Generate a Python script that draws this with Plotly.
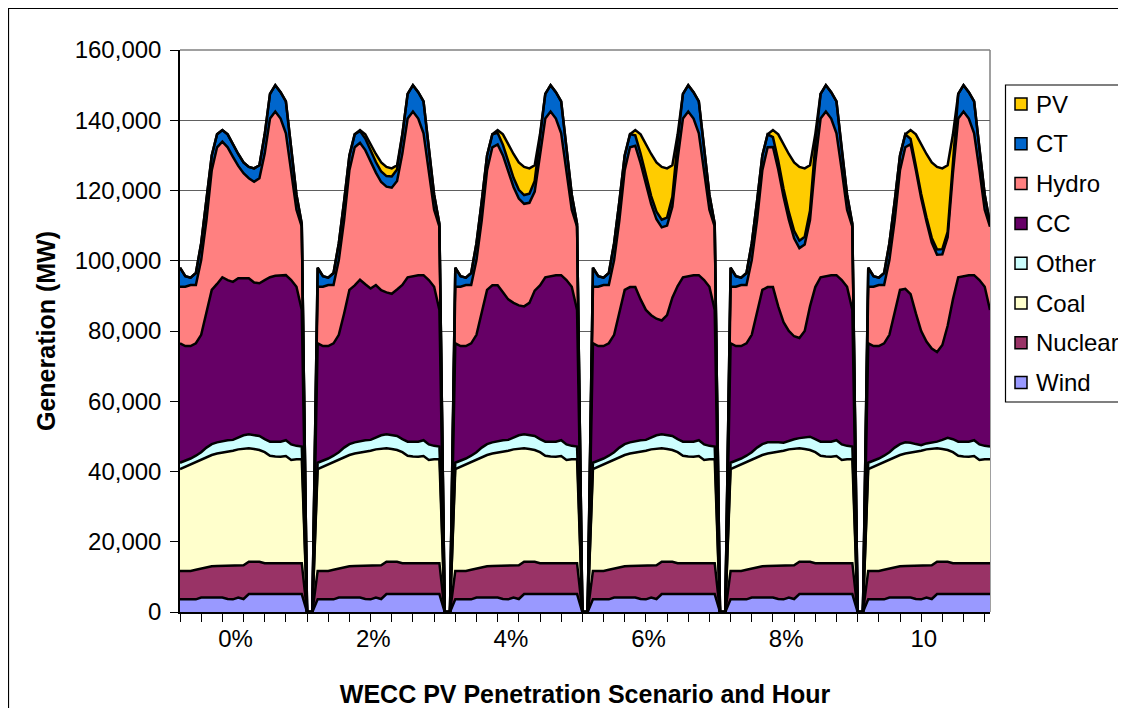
import plotly.graph_objects as go

# ---------------- data (MW), 24 hourly points per scenario ----------------
scenarios = ["0%", "2%", "4%", "6%", "8%", "10"]

wind_day = [3600, 3600, 3600, 3600, 4100, 4100, 4100, 4100, 4100, 3700, 3600, 4100,
            3700, 5100, 5100, 5100, 5100, 5100, 5100, 5100, 5100, 5100, 5100, 5100]
nuclear_day = [8100, 8100, 8100, 8400, 8300, 8700, 8900, 9000, 9000, 9400, 9500, 9000,
               9600, 9200, 9200, 9200, 8800, 8800, 8800, 8800, 8800, 8800, 8800, 8800]
coal_day = [29000, 29700, 30400, 30800, 31100, 31400, 31700, 32000, 32200, 32500, 32800, 33200,
            33100, 32300, 32100, 31800, 31600, 30600, 30400, 30300, 30500, 29400, 29600, 29600]

other_base = [1800, 1600, 1600, 1700, 2000, 2600, 3100, 3200, 3400, 3300, 3100, 3400,
              3900, 4000, 3900, 4000, 3700, 4000, 4200, 4300, 4500, 4400, 3800, 3600]
other_8 = [1800, 1600, 1600, 1700, 2000, 2600, 3100, 3200, 3100, 2700, 2300, 2500,
           2800, 2900, 3200, 3800, 3700, 4000, 4200, 4300, 4500, 4400, 3800, 3600]
other_10 = [1800, 1600, 1600, 1700, 2000, 2600, 3100, 3200, 2900, 2200, 1600, 1700,
            1800, 1900, 2600, 3500, 3700, 4000, 4200, 4300, 4500, 4400, 3800, 3600]

cc_0 = [34000, 32700, 32000, 32000, 33400, 38200, 43900, 45100, 46600, 45600, 45000, 45300,
        44700, 44400, 43500, 43500, 45300, 46800, 47200, 47400, 47000, 46800, 45300, 38900]
cc_2 = [34000, 32700, 32000, 32000, 33400, 38200, 43900, 44700, 45900, 44400, 43100, 43400,
        41300, 40400, 40300, 41700, 43900, 46800, 47200, 47400, 47000, 46800, 45300, 38900]
cc_4 = [34000, 32700, 32000, 32000, 33400, 38200, 43900, 44700, 44300, 42100, 40000, 38300,
        37000, 36400, 37700, 41400, 43800, 46800, 47200, 47400, 47000, 46800, 45300, 38900]
cc_6 = [34000, 32700, 32000, 32000, 33400, 38200, 43900, 44200, 43800, 40100, 37000, 34800,
        33200, 32400, 34200, 39400, 43600, 46800, 47200, 47400, 47000, 46800, 45300, 38900]
cc_8 = [34000, 32700, 32000, 32000, 33400, 38200, 43900, 44200, 44100, 38700, 34300, 31200,
        29300, 28500, 30400, 37100, 43300, 46800, 47200, 47400, 47000, 46800, 45300, 38900]
cc_10 = [34000, 32700, 32000, 32000, 33400, 38200, 43900, 43700, 42300, 37200, 32500, 29000,
         26800, 25500, 27000, 31900, 39800, 46800, 47200, 47400, 47000, 46800, 45300, 38900]

hydro_0 = [16100, 16900, 17400, 16600, 21300, 26600, 34100, 38900, 38600, 37800, 35600, 32000,
           29900, 28500, 28700, 29900, 36000, 45200, 46800, 44600, 40400, 31300, 21900, 23700]
hydro_2 = [16100, 16900, 17400, 16600, 21300, 26600, 34100, 39300, 39000, 38200, 36000, 32000,
           30800, 30100, 30200, 30900, 37400, 45200, 46800, 44600, 40400, 31300, 21900, 23700]
hydro_4 = [16100, 16900, 17400, 16600, 21300, 26600, 34100, 39300, 40100, 39000, 36200, 33000,
           30400, 29200, 28500, 28200, 37000, 45200, 46800, 44600, 40400, 31300, 21900, 23700]
hydro_6 = [16100, 16900, 17400, 16600, 21300, 26600, 34100, 39800, 40200, 38800, 35500, 31600,
           28300, 26500, 25500, 25900, 36200, 45200, 46800, 44600, 40400, 31300, 21900, 23700]
hydro_8 = [16100, 16900, 17400, 16600, 21300, 26600, 34100, 39800, 39900, 39000, 35700, 31700,
           27900, 25600, 24600, 24600, 35500, 45200, 46800, 44600, 40400, 31300, 21900, 23700]
hydro_10 = [16100, 16900, 17400, 16600, 21300, 26600, 34100, 40300, 42700, 40800, 37800, 34200,
            30200, 27700, 25800, 25200, 36000, 45200, 46800, 44600, 40400, 31300, 21900, 23700]

ct_0 = [5400, 3000, 2100, 3400, 4800, 5400, 4200, 3700, 3300, 3700, 3400, 3400,
        3100, 3200, 3800, 3700, 5500, 7000, 7500, 7500, 9100, 5800, 4300, 800]
ct_2 = [5400, 3000, 2100, 3400, 4800, 5400, 4200, 3700, 3300, 3300, 3100, 3000,
        3000, 3000, 3200, 3300, 5500, 7000, 7500, 7500, 9100, 5800, 4300, 800]
ct_4 = [5400, 3000, 2100, 3400, 4800, 5400, 4200, 3700, 3300, 3000, 2800, 2600,
        2500, 2500, 2600, 3000, 5200, 7000, 7500, 7500, 9100, 5800, 4300, 800]
ct_6 = [5400, 3000, 2100, 3400, 4800, 5400, 4200, 3700, 3000, 2700, 2500, 2300,
        2200, 2200, 2300, 2800, 5000, 7000, 7500, 7500, 9100, 5800, 4300, 800]
ct_8 = [5400, 3000, 2100, 3400, 4800, 5400, 4200, 3700, 2800, 2500, 2300, 2200,
        2100, 2100, 2200, 2600, 5000, 7000, 7500, 7500, 9100, 5800, 4300, 800]
ct_10 = [5400, 3000, 2100, 3400, 4800, 5400, 4200, 3700, 1500, 1200, 1200, 1200,
         1300, 1500, 1500, 1500, 4000, 7000, 7500, 7500, 9100, 5800, 4300, 800]

pv_0 = [0, 0, 0, 0, 0, 0, 0, 0, 0, 0, 0, 0, 0, 0, 0, 0, 0, 0, 0, 0, 0, 0, 0, 0]
pv_2 = [0, 0, 0, 0, 0, 0, 0, 0, 300, 1200, 1800, 2300,
        2600, 2600, 2300, 1200, 0, 0, 0, 0, 0, 0, 0, 0]
pv_4 = [0, 0, 0, 0, 0, 0, 0, 0, 800, 3000, 5000, 6800,
        7800, 8000, 7200, 4500, 800, 0, 0, 0, 0, 0, 0, 0]
pv_6 = [0, 0, 0, 0, 0, 0, 0, 0, 1500, 5500, 9000, 12000,
        14000, 15000, 14000, 9000, 2000, 0, 0, 0, 0, 0, 0, 0]
pv_8 = [0, 0, 0, 0, 0, 0, 0, 0, 2000, 7500, 12500, 16500,
        19500, 21000, 19500, 13000, 3000, 0, 0, 0, 0, 0, 0, 0]
pv_10 = [0, 0, 0, 0, 0, 0, 0, 0, 2500, 9000, 14000, 18000,
         21500, 23500, 23000, 19000, 7000, 0, 0, 0, 0, 0, 0, 0]

y_ticks = [0, 20000, 40000, 60000, 80000, 100000, 120000, 140000, 160000]

series = [
    ("Wind", "#9999FF", [wind_day] * 6),
    ("Nuclear", "#993366", [nuclear_day] * 6),
    ("Coal", "#FFFFCC", [coal_day] * 6),
    ("Other", "#CCFFFF", [other_base, other_base, other_base, other_base, other_8, other_10]),
    ("CC", "#660066", [cc_0, cc_2, cc_4, cc_6, cc_8, cc_10]),
    ("Hydro", "#FF8080", [hydro_0, hydro_2, hydro_4, hydro_6, hydro_8, hydro_10]),
    ("CT", "#0066CC", [ct_0, ct_2, ct_4, ct_6, ct_8, ct_10]),
    ("PV", "#FFCC00", [pv_0, pv_2, pv_4, pv_6, pv_8, pv_10]),
]

GAP = [0, 0]  # blank categories between scenarios (plotted as zero, as in the original)


def join_days(days):
    out = []
    for k, day in enumerate(days):
        if k > 0:
            out += GAP
        out += day
    return out


n_points = len(join_days(series[0][2]))
x = list(range(n_points))
period = len(wind_day) + len(GAP)
label_pos = [k * period + 10.5 for k in range(len(scenarios))]

FONT = "Liberation Sans, Arial, sans-serif"

fig = go.Figure()
for name, color, days in series:
    fig.add_trace(go.Scatter(
        x=x, y=join_days(days), name=name, mode="lines",
        stackgroup="gen", fillcolor=color,
        line=dict(color="black", width=2.5, shape="linear"),
        showlegend=False, hoverinfo="name+y",
    ))

# ---- geometry: page body has an 8px margin, so work in screen pixels ----
OFF = 8
W, H = 1126 - OFF, 708 - OFF
PL, PR, PT, PB = 180, 990, 50, 612          # plot area in screen pixels
L, T = PL - OFF, PT - OFF
R, B = W - (PR - OFF), H - (PB - OFF)
pw, ph = PR - PL, PB - PT


def px(xs):
    return (xs - PL) / pw


def py(ys):
    return (PB - ys) / ph


shapes = [
    # plot-area frame (grey, top and right)
    dict(type="line", xref="paper", yref="paper", x0=0, x1=1, y0=1, y1=1,
         line=dict(color="#808080", width=1.5), layer="below"),
    dict(type="line", xref="paper", yref="paper", x0=1, x1=1, y0=0, y1=1,
         line=dict(color="#808080", width=1.5), layer="below"),
    # chart-area border
    dict(type="rect", xref="paper", yref="paper",
         x0=px(8.5), x1=px(1140), y0=py(730), y1=py(8.5),
         line=dict(color="black", width=1.2), fillcolor="rgba(0,0,0,0)"),
    # legend box
    dict(type="rect", xref="paper", yref="paper",
         x0=px(1005.5), x1=px(1122), y0=py(402), y1=py(85),
         line=dict(color="black", width=1.2), fillcolor="white"),
]
annotations = []
legend_y0, legend_step = 104, 39.8
for j, (name, color, _) in enumerate(reversed(series)):
    yc = legend_y0 + j * legend_step
    shapes.append(dict(type="rect", xref="paper", yref="paper",
                       x0=px(1015), x1=px(1027), y0=py(yc + 6), y1=py(yc - 6),
                       line=dict(color="black", width=1.5), fillcolor=color))
    annotations.append(dict(xref="paper", yref="paper", x=px(1034), y=py(yc),
                            xanchor="left", yanchor="middle", text=name,
                            showarrow=False,
                            font=dict(family=FONT, size=24, color="black")))

fig.update_layout(
    width=W, height=H,
    margin=dict(l=L, r=R, t=T, b=B, pad=0),
    paper_bgcolor="white", plot_bgcolor="white",
    font=dict(family=FONT, size=24, color="black"),
    showlegend=False,
    xaxis=dict(
        range=[0, n_points - 1], showgrid=False, zeroline=False,
        showline=True, linecolor="black", linewidth=1.5,
        tickmode="array", tickvals=label_pos, ticktext=scenarios,
        ticks="", ticklabelstandoff=4,
        tickfont=dict(family=FONT, size=24),
        minor=dict(ticks="outside", ticklen=8, tickcolor="black", tickwidth=1,
                   tickmode="linear", tick0=0, dtick=4, showgrid=False),
        title=dict(text="<b>WECC PV Penetration Scenario and Hour</b>",
                   font=dict(family=FONT, size=25), standoff=36),
        automargin=False,
    ),
    yaxis=dict(
        range=[0, 160000], tickmode="array", tickvals=y_ticks,
        tickformat=",", showgrid=True, gridcolor="#606060", gridwidth=1,
        zeroline=False, showline=True, linecolor="black", linewidth=1.5,
        ticks="outside", ticklen=8, tickcolor="black", ticklabelstandoff=4,
        tickfont=dict(family=FONT, size=24),
        title=dict(text="<b>Generation (MW)</b>", font=dict(family=FONT, size=25),
                   standoff=12),
        automargin=False,
    ),
    shapes=shapes,
    annotations=annotations,
)

fig.write_html("out.html")
